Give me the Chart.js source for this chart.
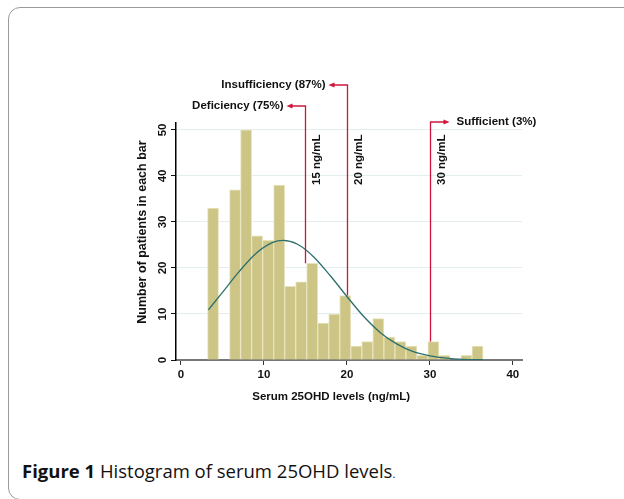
<!DOCTYPE html>
<html>
<head>
<meta charset="utf-8">
<script src="https://cdn.jsdelivr.net/npm/chart.js@4.4.1/dist/chart.umd.min.js"></script>
<style>
    html, body { margin: 0; padding: 0; background: #fff; }
    body { width: 624px; height: 499px; position: relative; overflow: hidden; }
    #frame { position: absolute; left: 8px; top: 7px; width: 700px; height: 491px; border: 1px solid #9a9a9a; border-radius: 12px; }
    #wrap { position: absolute; left: 0; top: 0; width: 624px; height: 420px; }
    #caption { position: absolute; left: 22px; top: 458px; font-family: "Open Sans", sans-serif; font-size: 18.5px; color: #111; }
    #caption b { font-weight: 700; }
    #caption small { font-size: 11px; }
</style>
</head>
<body>
<div id="frame"></div>
<div id="wrap"><canvas id="histo" width="624" height="420"></canvas></div>
<div id="caption"><b>Figure 1</b> Histogram of serum 25OHD levels<small>.</small></div>

<script>
// histogramme : bins de largeur égale à partir de binStart
const binStart = 3.2;
const binWidth = 1.328;
const counts = [33, 0, 37, 50, 27, 26, 38, 16, 17, 21, 8, 10, 14, 3, 4, 9, 5, 4, 3, 1, 4, 1, 0, 1, 3];

// courbe normale
const curveX = [3.3, 5, 7, 9, 11, 12.3, 14, 16, 18, 20, 22, 24, 26, 28, 30, 32, 34, 36.4];
const curveY = [10.9, 14.7, 19.2, 23.1, 25.5, 26, 25.2, 22.4, 18.3, 13.8, 9.5, 6.0, 3.5, 1.8, 0.9, 0.4, 0.15, 0.05];

const xTicks = [0, 10, 20, 30, 40];
const yTicks = [0, 10, 20, 30, 40, 50];

// seuils
const cutoffs = [15, 20, 30];
const cutoffTags = ['15 ng/mL', '20 ng/mL', '30 ng/mL'];
const cutoffBarTop = [21, 14, 4];
const groupLabels = ['Deficiency (75%)', 'Insufficiency (87%)', 'Sufficient (3%)'];

const xTitle = 'Serum 25OHD levels (ng/mL)';
const yTitle = 'Number of patients in each bar';

const boldFont = 'bold 11.5px "Liberation Sans", Arial, sans-serif';

const annotations = {
    id: 'annotations',
    afterDatasetsDraw(chart) {
        const {ctx, scales: {x, y}} = chart;
        const armY = [106, 85, 122];
        const dir = [-1, -1, 1];
        ctx.save();
        ctx.lineWidth = 1.3;
        ctx.font = boldFont;
        cutoffs.forEach((c, i) => {
            const px = Math.round(x.getPixelForValue(c)) + 0.5;
            const yBot = y.getPixelForValue(cutoffBarTop[i]);
            const tip = px + dir[i] * 19;
            ctx.strokeStyle = '#d0143c';
            ctx.fillStyle = '#d0143c';
            ctx.beginPath();
            ctx.moveTo(px, yBot);
            ctx.lineTo(px, armY[i]);
            ctx.lineTo(tip - dir[i] * 4, armY[i]);
            ctx.stroke();
            // pointe de flèche
            ctx.beginPath();
            ctx.moveTo(tip, armY[i]);
            ctx.lineTo(tip - dir[i] * 6, armY[i] - 2.6);
            ctx.lineTo(tip - dir[i] * 6, armY[i] + 2.6);
            ctx.closePath();
            ctx.fill();

            ctx.fillStyle = '#111';
            ctx.textBaseline = 'middle';
            ctx.textAlign = dir[i] < 0 ? 'right' : 'left';
            ctx.fillText(groupLabels[i], tip + dir[i] * (dir[i] < 0 ? 3 : 7), armY[i]);

            // étiquette verticale
            ctx.save();
            ctx.translate(px + 11, 185);
            ctx.rotate(-Math.PI / 2);
            ctx.textAlign = 'left';
            ctx.fillText(cutoffTags[i], 0, 0);
            ctx.restore();
        });
        ctx.restore();
    },
    afterDraw(chart) {
        // graduations y tournées (style Stata) + titres des axes
        const {ctx, scales: {x, y}} = chart;
        ctx.save();
        ctx.font = boldFont;
        ctx.fillStyle = '#111';
        ctx.textAlign = 'center';
        ctx.textBaseline = 'middle';
        for (const v of yTicks) {
            ctx.save();
            ctx.translate(y.left + 27, y.getPixelForValue(v));
            ctx.rotate(-Math.PI / 2);
            ctx.fillText(String(v), 0, 0);
            ctx.restore();
        }
        ctx.fillText(xTitle, x.getPixelForValue(18.1), x.bottom - 7);

        ctx.font = 'bold 12.5px "Liberation Sans", Arial, sans-serif';
        ctx.save();
        ctx.translate(y.left + 7, y.getPixelForValue(27.8));
        ctx.rotate(-Math.PI / 2);
        ctx.fillText(yTitle, 0, 0);
        ctx.restore();
        ctx.restore();
    }
};

const ctx = document.getElementById('histo');

new Chart(ctx, {
    data: {
        datasets: [
            {
                type: 'line',
                label: 'normal',
                data: curveX.map((v, i) => ({x: v, y: curveY[i]})),
                borderColor: '#2c6f6c',
                borderWidth: 1.3,
                pointRadius: 0,
                cubicInterpolationMode: 'monotone',
                order: 0,
            },
            {
                type: 'bar',
                label: 'patients',
                data: counts.map((v, i) => ({x: binStart + (i + 0.5) * binWidth, y: v})),
                backgroundColor: '#ccc586',
                borderColor: '#e8e4bd',
                borderWidth: 1,
                barPercentage: 1,
                categoryPercentage: 1,
                grouped: false,
                order: 1,
            }
        ]
    },
    options: {
        responsive: false,
        animation: false,
        layout: {
            padding: {left: 136, top: 123, right: 102, bottom: 16}
        },
        scales: {
            x: {
                type: 'linear',
                min: -0.6,
                max: 41.1,
                offset: false,
                afterBuildTicks: s => { s.ticks = xTicks.map(v => ({value: v})); },
                afterFit: s => { s.height = 44; },
                grid: {offset: false, drawOnChartArea: false, tickLength: 5, tickColor: '#333', tickWidth: 1},
                border: {color: '#777', width: 2},
                ticks: {font: {family: '"Liberation Sans", Arial', size: 11.5, weight: 'bold'}, color: '#111', padding: 3, maxRotation: 0},
            },
            y: {
                min: 0,
                max: 51.5,
                afterBuildTicks: s => { s.ticks = yTicks.map(v => ({value: v})); },
                afterFit: s => { s.width = 40; },
                grid: {color: '#e4eeee', lineWidth: 1, tickLength: 5, tickColor: '#111'},
                border: {color: '#000', width: 1.5},
                ticks: {display: false},
            }
        },
        plugins: {
            legend: {display: false},
            tooltip: {enabled: false},
        }
    },
    plugins: [annotations]
});
</script>
</body>
</html>
